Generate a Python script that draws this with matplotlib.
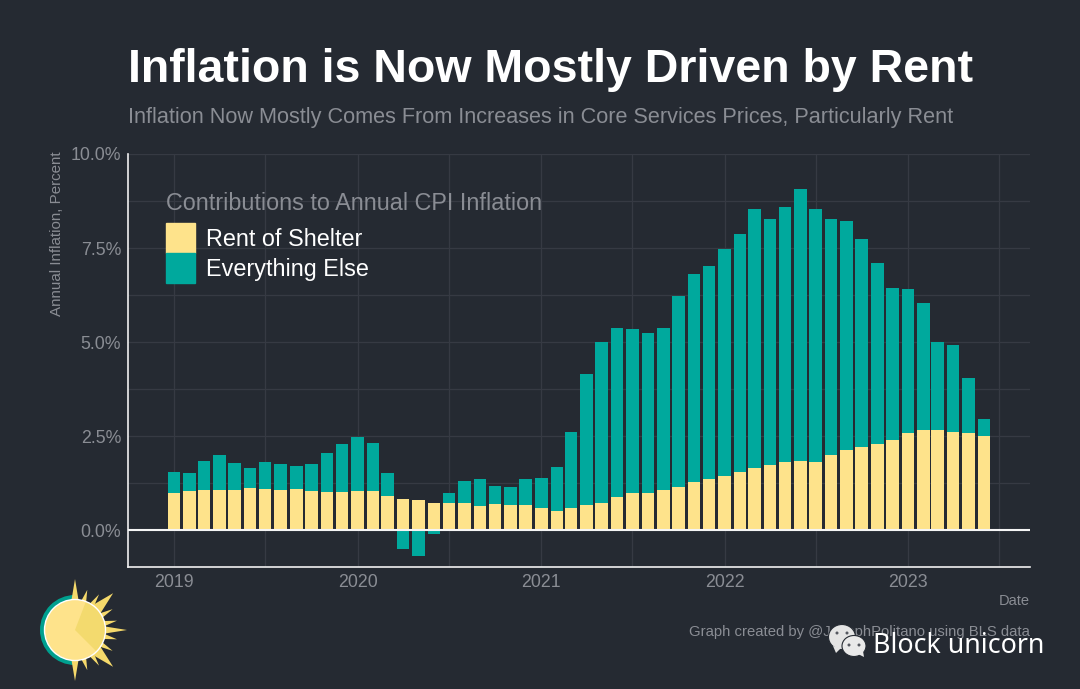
import numpy as np
import pandas as pd
import matplotlib
matplotlib.use("Agg")
import matplotlib.pyplot as plt
import matplotlib.dates as mdates
from matplotlib.patches import Circle, Wedge, Polygon, Ellipse, Patch

START = "2019-01-01"
RENT = [0.99,1.04,1.06,1.08,1.06,1.11,1.09,1.06,1.10,1.04,1.02,1.01,
        1.04,1.03,0.92,0.82,0.80,0.72,0.72,0.72,0.64,0.70,0.68,0.66,
        0.58,0.52,0.58,0.66,0.73,0.87,0.99,0.975,1.08,1.15,1.27,1.35,
        1.43,1.55,1.66,1.72,1.80,1.83,1.82,2.01,2.12,2.22,2.28,2.40,
        2.58,2.65,2.65,2.62,2.57,2.50]
OTHER = [0.55,0.47,0.79,0.91,0.72,0.53,0.71,0.69,0.60,0.72,1.03,1.27,
         1.44,1.29,0.61,-0.51,-0.69,-0.10,0.255,0.58,0.72,0.47,0.48,0.69,
         0.81,1.15,2.04,3.50,4.26,4.51,4.37,4.265,4.30,5.07,5.55,5.68,
         6.05,6.32,6.89,6.54,6.78,7.23,6.71,6.25,6.09,5.53,4.83,4.05,
         3.83,3.39,2.34,2.30,1.47,0.46]
YTICKS = [0, 2.5, 5, 7.5, 10]
YTICK_LABELS = ["0.0%", "2.5%", "5.0%", "7.5%", "10.0%"]
TITLE = "Inflation is Now Mostly Driven by Rent"
SUBTITLE = "Inflation Now Mostly Comes From Increases in Core Services Prices, Particularly Rent"

BG, GRID, GREY = "#252A32", "#363A43", "#8A8D94"
YELLOW, TEAL = "#FEE38B", "#00A99D"
W, H = 1080, 689
plt.rcParams["font.family"] = ["Liberation Sans", "DejaVu Sans"]

fig = plt.figure(figsize=(W/100, H/100), dpi=100, facecolor=BG)
ax = fig.add_axes([128/W, 1-567/H, (1030-128)/W, (567-154)/H], facecolor=BG)

dates = pd.date_range(START, periods=len(RENT), freq="MS")
rent = np.array(RENT); other = np.array(OTHER)
ax.bar(dates, rent, width=25, color=YELLOW, zorder=3)
ax.bar(dates, other, width=25, bottom=np.where(other > 0, rent, 0), color=TEAL, zorder=3)

ax.set_ylim(-0.98, 10)
ax.set_xlim(pd.Timestamp("2018-10-01"), pd.Timestamp("2023-09-01"))
ax.set_yticks(YTICKS, YTICK_LABELS)
ax.set_yticks(np.arange(1.25, 10, 2.5), minor=True)
ax.xaxis.set_major_locator(mdates.YearLocator())
ax.xaxis.set_major_formatter(mdates.DateFormatter("%Y"))
ax.xaxis.set_minor_locator(mdates.MonthLocator(bymonth=7))
ax.grid(True, which="both", color=GRID, lw=0.9, zorder=0)
ax.set_axisbelow(True)
ax.tick_params(which="both", length=0)
ax.tick_params(axis="both", colors=GREY, labelsize=12.8)
ax.tick_params(axis="y", pad=5)
ax.tick_params(axis="x", pad=5)
for s in ("top", "right"):
    ax.spines[s].set_visible(False)
for s in ("left", "bottom"):
    ax.spines[s].set_color("#F0F0F0"); ax.spines[s].set_linewidth(1.2)
ax.axhline(0, color="#F5F5F5", lw=1.5, zorder=4)

leg = ax.legend(handles=[Patch(color=YELLOW, label="Rent of Shelter"),
                         Patch(color=TEAL, label="Everything Else")],
                title="Contributions to Annual CPI Inflation", frameon=False,
                alignment="left", loc="upper left", bbox_to_anchor=((166-128)/902, 1-38/413),
                borderaxespad=0, borderpad=0, fontsize=16.8, title_fontsize=16.8,
                handlelength=1.25, handleheight=1.6, handletextpad=0.47, labelspacing=0)
for t in leg.get_texts():
    t.set_color("white")
leg.get_title().set_color(GREY)
leg._legend_box.sep = 6

fig.text(128/W, 1-70/H, TITLE, color="white", fontsize=33.5, fontweight="bold", va="center")
fig.text(128/W, 1-118/H, SUBTITLE, color=GREY, fontsize=15.6, va="center")
fig.text(57/W, 1-234/H, "Annual Inflation, Percent", color=GREY, fontsize=10.9,
         rotation=90, ha="center", va="center")
fig.text(1030/W, 1-601/H, "Date", color=GREY, fontsize=10.5, ha="right", va="center")
fig.text(1030/W, 1-632/H, "Graph created by @JosephPolitano using BLS data", color=GREY,
         fontsize=10.7, ha="right", va="center")

# decoration overlay in pixel coordinates
ov = fig.add_axes([0, 0, 1, 1], facecolor="none", zorder=10)
ov.set_xlim(0, W); ov.set_ylim(H, 0); ov.axis("off")

# sun logo
cx, cy = 75, 630
ov.add_patch(Wedge((cx, cy), 35, 90, 270, fc="#00A08F", ec="none"))
spikes = [(90,51,8),(73,42,6),(56,43,6),(44,53,13),(29,43,6),(12.5,43,6),(0,52,8),
          (-12.5,43,6),(-29,43,6),(-44,53,13),(-56,43,6),(-73,42,6),(-90,51,8)]
for ang, r, hw in spikes:
    a = np.radians(ang); half = np.radians(hw)
    pts = [(cx+r*np.cos(a), cy-r*np.sin(a)),
           (cx+28*np.cos(a+half), cy-28*np.sin(a+half)),
           (cx+28*np.cos(a-half), cy-28*np.sin(a-half))]
    ov.add_patch(Polygon(pts, fc="#F5D96B", ec="none"))
ov.add_patch(Circle((cx, cy), 30.5, fc=YELLOW, ec="white", lw=1.0))
# y axis is inverted, so angles are mirrored
ov.add_patch(Wedge((cx, cy), 29.5, -69, 45, fc="#F3DA6E", ec="none"))

# watermark
for (x, y, rx, ry, col) in [(842, 637, 13.5, 12.5, "#E4E4E4"), (854, 646, 12, 10.5, "#E9E9E9")]:
    ov.add_patch(Ellipse((x, y), 2*rx, 2*ry, fc=col, ec=BG, lw=0.8))
ov.add_patch(Polygon([(833, 646), (836, 653), (841, 648)], fc="#E4E4E4", ec="none"))
ov.add_patch(Polygon([(858, 654), (864, 657), (863, 651)], fc="#E9E9E9", ec="none"))
for (x, y) in [(837, 633), (847, 633), (849, 645), (859, 645)]:
    ov.add_patch(Circle((x, y), 1.5, fc="#555860", ec="none"))
ov.text(873, 646, "Block unicorn", color="white", fontsize=19.3, family="Noto Sans",
        va="center", ha="left")

fig.savefig("out.png", dpi=100, facecolor=BG)
